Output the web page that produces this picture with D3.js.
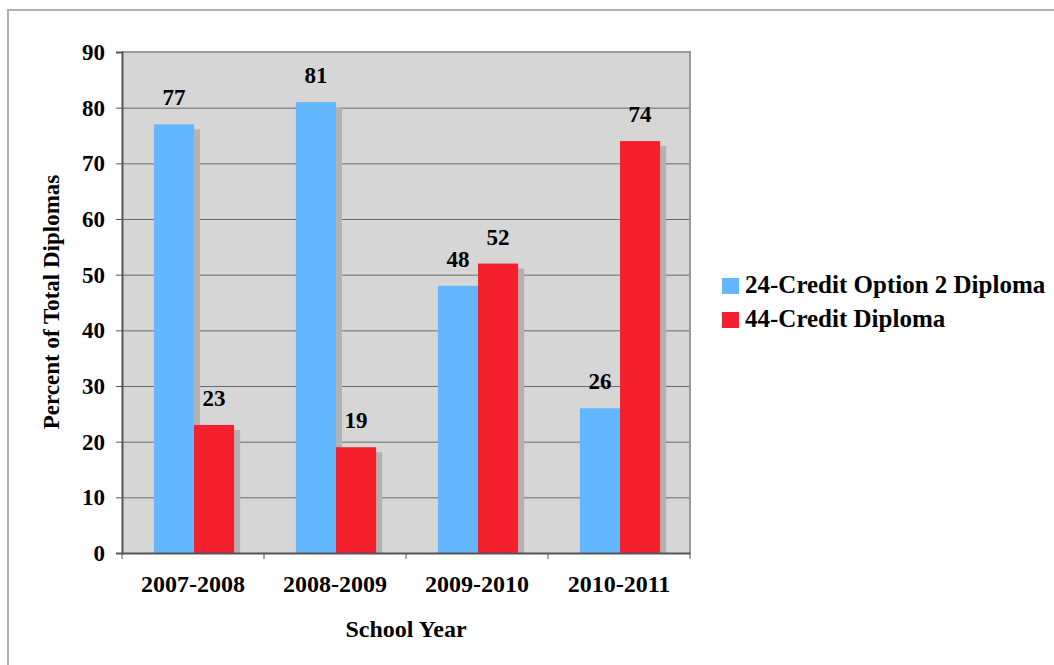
<!DOCTYPE html>
<html>
<head>
<meta charset="utf-8">
<script src="https://cdn.jsdelivr.net/npm/d3@7"></script>
<style>
  html, body { margin: 0; padding: 0; background: #fff; }
  svg { display: block; }
  svg text { font-family: "Liberation Serif", "Times New Roman", Times, serif !important; font-weight: bold; fill: #000; }
</style>
</head>
<body>
<svg id="chart" width="1054" height="665"></svg>
<script>
// School years on the x axis
const years = ["2007-2008", "2008-2009", "2009-2010", "2010-2011"];
// Series names and values (percent of total diplomas)
const seriesNames = ["24-Credit Option 2 Diploma", "44-Credit Diploma"];
const option2Values = [77, 81, 48, 26];
const credit44Values = [23, 19, 52, 74];
const yTicks = [0, 10, 20, 30, 40, 50, 60, 70, 80, 90];
const colors = ["#63b7ff", "#f5202e"];

const seriesValues = [option2Values, credit44Values];

const svg = d3.select("#chart");
const plot = { left: 122, right: 690, top: 52, bottom: 553 };

// Outer frame
svg.append("path")
  .attr("d", "M8,665 L8,10 L1054,10")
  .attr("fill", "none")
  .attr("stroke", "#b0b0b0")
  .attr("stroke-width", 2);

const x = d3.scaleBand().domain(years).range([plot.left, plot.right]);
const xInner = d3.scaleBand().domain(d3.range(seriesNames.length))
  .range([0, x.bandwidth()]).paddingInner(0).paddingOuter(0.77);
const y = d3.scaleLinear().domain([0, 90]).range([plot.bottom, plot.top]);

// Plot background
svg.append("rect")
  .attr("x", plot.left).attr("y", plot.top)
  .attr("width", plot.right - plot.left).attr("height", plot.bottom - plot.top)
  .attr("fill", "#d6d6d6");

// Horizontal gridlines
svg.append("g").selectAll("line")
  .data(yTicks.filter(t => t > 0 && t < 90))
  .join("line")
  .attr("x1", plot.left).attr("x2", plot.right)
  .attr("y1", d => y(d) + 0.5).attr("y2", d => y(d) + 0.5)
  .attr("stroke", "#6a6a6a").attr("stroke-width", 1);

// Plot border (top and right)
svg.append("path")
  .attr("d", `M${plot.left},${plot.top} L${plot.right},${plot.top} L${plot.right},${plot.bottom}`)
  .attr("fill", "none").attr("stroke", "#9a9a9a").attr("stroke-width", 2);

const bars = [];
years.forEach((yr, i) => {
  seriesValues.forEach((vals, s) => {
    bars.push({ year: yr, s, value: vals[i] });
  });
});

const barX = d => x(d.year) + xInner(d.s) + 1;
const bw = xInner.bandwidth();

// Drop shadows behind bars
svg.append("g").selectAll("rect")
  .data(bars)
  .join("rect")
  .attr("x", d => barX(d) + 6)
  .attr("y", d => y(d.value) + 5)
  .attr("width", bw)
  .attr("height", d => plot.bottom - y(d.value) - 5)
  .attr("fill", "#b2b2b2");

// Bars
svg.append("g").selectAll("rect")
  .data(bars)
  .join("rect")
  .attr("x", d => barX(d))
  .attr("y", d => y(d.value))
  .attr("width", bw)
  .attr("height", d => plot.bottom - y(d.value))
  .attr("fill", d => colors[d.s]);

// Value labels
svg.append("g").selectAll("text")
  .data(bars)
  .join("text")
  .attr("x", d => barX(d) + bw / 2)
  .attr("y", d => y(d.value) - 19)
  .attr("text-anchor", "middle")
  .attr("font-size", 23)
  .text(d => d.value);

// Y axis
const yAxis = svg.append("g")
  .attr("transform", `translate(${plot.left},0)`)
  .call(d3.axisLeft(y).tickValues(yTicks).tickSize(6).tickPadding(11));
yAxis.select(".domain").attr("stroke", "#555").attr("stroke-width", 2);
yAxis.selectAll(".tick line").attr("stroke", "#555");
yAxis.selectAll(".tick text").attr("font-size", 23);

// X axis
const xAxis = svg.append("g")
  .attr("transform", `translate(0,${plot.bottom})`)
  .call(d3.axisBottom(x).tickSize(0).tickPadding(22));
xAxis.select(".domain").attr("stroke", "#555").attr("stroke-width", 2);
xAxis.selectAll(".tick text").attr("font-size", 24);

// Category separator ticks
svg.append("g").selectAll("line")
  .data(years.concat(["end"]))
  .join("line")
  .attr("x1", (d, i) => i < years.length ? x(d) : plot.right)
  .attr("x2", (d, i) => i < years.length ? x(d) : plot.right)
  .attr("y1", plot.bottom).attr("y2", plot.bottom + 6)
  .attr("stroke", "#555");

// Axis titles
svg.append("text")
  .attr("x", (plot.left + plot.right) / 2)
  .attr("y", 637)
  .attr("text-anchor", "middle")
  .attr("font-size", 24)
  .text("School Year");

svg.append("text")
  .attr("transform", "translate(59,302) rotate(-90)")
  .attr("text-anchor", "middle")
  .attr("font-size", 23)
  .text("Percent of Total Diplomas");

// Legend
const legend = svg.append("g").attr("transform", "translate(722,278)");
seriesNames.forEach((name, i) => {
  const row = legend.append("g").attr("transform", `translate(0,${i * 34})`);
  row.append("rect").attr("width", 17).attr("height", 16).attr("fill", colors[i]);
  row.append("text").attr("x", 23).attr("y", 15).attr("font-size", 25).text(name);
});
</script>
</body>
</html>
